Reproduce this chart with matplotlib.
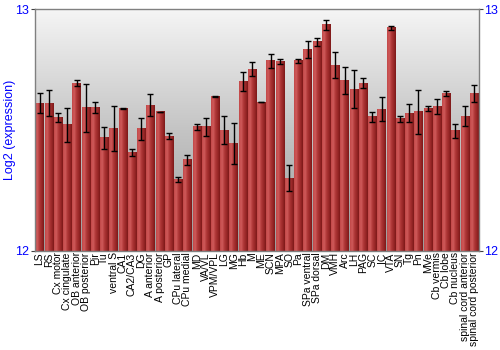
import matplotlib
matplotlib.use("Agg")
import matplotlib.pyplot as plt
import numpy as np
from matplotlib.colors import LinearSegmentedColormap

categories = ["LS", "RS", "Cx motor", "Cx cingulate", "OB anterior", "OB posterior", "Pir", "Tu",
              "ventral S", "CA1", "CA2/CA3", "DG", "A anterior", "A posterior", "GP", "CPu lateral",
              "CPu medial", "MD", "VA/VL", "VPM/VPL", "LG", "MG", "Hb", "M", "ME", "SCN", "MPA", "SO",
              "Pa", "SPa ventral", "SPa dorsal", "DM", "VMH", "Arc", "LH", "PAG", "SC", "IC", "VTA",
              "SN", "Tg", "Pn", "MVe", "Cb vermis", "Cb lobe", "Cb nucleus", "spinal cord anterior",
              "spinal cord posterior"]
values = [12.612, 12.612, 12.554, 12.522, 12.695, 12.593, 12.594, 12.468,
          12.506, 12.589, 12.409, 12.506, 12.604, 12.576, 12.475, 12.296,
          12.377, 12.514, 12.514, 12.638, 12.501, 12.446, 12.702, 12.753,
          12.616, 12.787, 12.784, 12.302, 12.787, 12.834, 12.866, 12.936,
          12.769, 12.705, 12.670, 12.695, 12.555, 12.587, 12.924, 12.547,
          12.571, 12.576, 12.589, 12.598, 12.651, 12.497, 12.558, 12.652]
errors = [0.041, 0.055, 0.018, 0.071, 0.013, 0.099, 0.021, 0.046,
          0.093, 0.002, 0.014, 0.045, 0.046, 0.001, 0.012, 0.012,
          0.022, 0.013, 0.037, 0.002, 0.058, 0.085, 0.038, 0.028,
          0.001, 0.030, 0.010, 0.052, 0.008, 0.034, 0.016, 0.020,
          0.054, 0.057, 0.080, 0.021, 0.019, 0.050, 0.008, 0.011,
          0.036, 0.092, 0.010, 0.030, 0.010, 0.028, 0.041, 0.037]
y_ticks = [12, 13]

plt.rcParams['font.family'] = ['Liberation Sans', 'DejaVu Sans']

fig = plt.figure(figsize=(5, 3.5), dpi=100)
ax = fig.add_axes([0.069, 0.283, 0.889, 0.690])

x = np.arange(len(categories))
ax.set_xlim(-0.55, len(categories) - 0.45)
ax.set_ylim(12, 13)

# background gradient
bg = LinearSegmentedColormap.from_list("bg", ["#9c9c9c", "#c4c4c4", "#f5f5f5"])
grad = np.linspace(0, 1, 256).reshape(-1, 1)
ax.imshow(grad, cmap=bg, aspect='auto', origin='lower',
          extent=[-0.55, len(categories) - 0.45, 12, 13], zorder=0)

bars = ax.bar(x, np.array(values) - 12, bottom=12, width=0.9, color="#a83030",
              edgecolor='none', zorder=1)
barcm = LinearSegmentedColormap.from_list("bar", ["#c24848", "#cf5a5a", "#b03838", "#9a2828", "#7c1818"])
hgrad = np.linspace(0, 1, 64).reshape(1, -1)
for r in bars:
    x0, w, y0, h = r.get_x(), r.get_width(), r.get_y(), r.get_height()
    ax.imshow(hgrad, cmap=barcm, aspect='auto', extent=[x0, x0 + w, y0, y0 + h], zorder=2)
    r.set_visible(False)
ax.set_xlim(-0.55, len(categories) - 0.45)
ax.set_ylim(12, 13)

ax.errorbar(x, values, yerr=errors, fmt='none', ecolor='black', elinewidth=1.0,
            capsize=2.2, capthick=1.0, zorder=3)

ax.set_xticks(x)
ax.set_xticklabels(categories, rotation=90, fontsize=7.5)
ax.tick_params(axis='x', length=0, pad=1)
ax.set_yticks(y_ticks)
ax.set_yticklabels([str(t) for t in y_ticks], color='#0000ff', fontsize=9)
ax.tick_params(axis='y', length=3, width=0.8, color='#404040', pad=1,
               left=True, right=True, labelleft=True, labelright=True)
ax.set_ylabel("Log2 (expression)", color='#0000ff', fontsize=9)
ax.yaxis.set_label_coords(-0.042, 0.5)
for s in ax.spines.values():
    s.set_color('#808080')
    s.set_linewidth(1.0)
    s.set_zorder(4)

fig.savefig("out.png", dpi=100)
